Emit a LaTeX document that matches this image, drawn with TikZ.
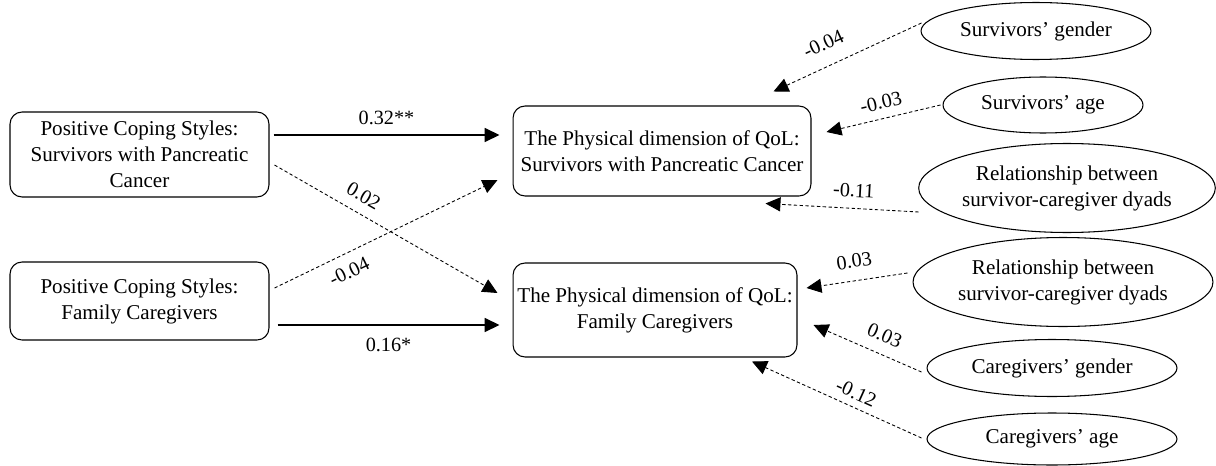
\documentclass[tikz,border=0pt]{standalone}
\usepackage{fontspec}
\setmainfont{Liberation Serif}
\usetikzlibrary{shapes.geometric, arrows.meta, positioning, calc}

\begin{document}
\begin{tikzpicture}[
    x=0.02cm, y=-0.02cm,
    box/.style={rectangle, rounded corners=0.24cm, draw, line width=0.6pt, align=center, inner sep=0pt, font=\fontsize{12}{14.8}\selectfont},
    factor/.style={ellipse, draw, line width=0.6pt, align=center, inner sep=0pt, font=\fontsize{12}{14.8}\selectfont},
    effect/.style={-{Triangle[length=8.5pt, width=8pt]}, line width=0.8pt},
    covar/.style={-{Triangle[length=8.5pt, width=8pt]}, line width=0.5pt, dash pattern=on 1.9pt off 1.4pt},
    coef/.style={font=\fontsize{11.5}{13}\selectfont, inner sep=1pt}
]
\useasboundingbox (0,0) rectangle (1216,466);

\node[box, minimum width=5.18cm, minimum height=1.7cm] (copeS) at (139.5,154.5) {Positive Coping Styles:\\Survivors with Pancreatic\\Cancer};
\node[box, minimum width=5.18cm, minimum height=1.56cm] (copeC) at (139.5,301) {Positive Coping Styles:\\Family Caregivers};
\node[box, minimum width=5.96cm, minimum height=1.8cm] (qolS) at (662,151) {The Physical dimension of QoL:\\Survivors with Pancreatic Cancer};
\node[box, minimum width=5.68cm, minimum height=1.88cm] (qolC) at (655,310) {The Physical dimension of QoL:\\Family Caregivers};

\node[factor, minimum width=4.6cm, minimum height=1.14cm] (sGender) at (1036,31) {Survivors’ gender};
\node[factor, minimum width=4.0cm, minimum height=1.12cm] (sAge) at (1043,105) {Survivors’ age};
\node[factor, minimum width=5.9cm, minimum height=1.78cm] (sRel) at (1067,188) {Relationship between\\survivor-caregiver dyads};
\node[factor, minimum width=6.0cm, minimum height=1.78cm] (cRel) at (1063,282) {Relationship between\\survivor-caregiver dyads};
\node[factor, minimum width=5.0cm, minimum height=1.14cm] (cGender) at (1052,368) {Caregivers’ gender};
\node[factor, minimum width=5.0cm, minimum height=1.04cm] (cAge) at (1052,439) {Caregivers’ age};

% coping styles -> physical QoL
\draw[effect] ($(copeS.east)+(4,-19.5)$) -- node[coef, above=4.4pt] {0.32**} ($(qolS.west)+(-13,-16)$);
\draw[effect] ($(copeC.east)+(8,24)$) -- node[coef, below=6pt] {0.16*} ($(qolC.west)+(-13,15)$);
\draw[covar] ($(copeS.east)+(5,10.5)$) -- node[coef, pos=0.36, sloped, above=5pt] {0.02} ($(qolC.west)+(-15,-17)$);
\draw[covar] ($(copeC.east)+(5,-13)$) -- node[coef, pos=0.3, sloped, below=5pt] {-0.04} ($(qolS.west)+(-15,29)$);

% covariates
\draw[covar] ($(sGender.west)+(1,-8)$) -- node[coef, pos=0.6, sloped, above=7.5pt] {-0.04} ($(qolS.north east)+(-38,-14)$);
\draw[covar] ($(sAge.west)+(-2,0)$) -- node[coef, pos=0.49, sloped, above=4pt] {-0.03} ($(qolS.east)+(15,-19)$);
\draw[covar] ($(sRel.west)+(0.5,24)$) -- node[coef, pos=0.43, sloped, above=5pt] {-0.11} ($(qolS.south east)+(-46,7)$);
\draw[covar] ($(cRel.west)+(-5,-9)$) -- node[coef, pos=0.5, sloped, above=6pt] {0.03} ($(qolC.east)+(9,-22)$);
\draw[covar] ($(cGender.west)+(-5,4)$) -- node[coef, pos=0.41, sloped, above=5.5pt] {0.03} ($(qolC.east)+(16,15)$);
\draw[covar] ($(cAge.west)+(-5,-1)$) -- node[coef, pos=0.42, sloped, above=3pt] {-0.12} ($(qolC.south)+(97,4)$);

\end{tikzpicture}
\end{document}
